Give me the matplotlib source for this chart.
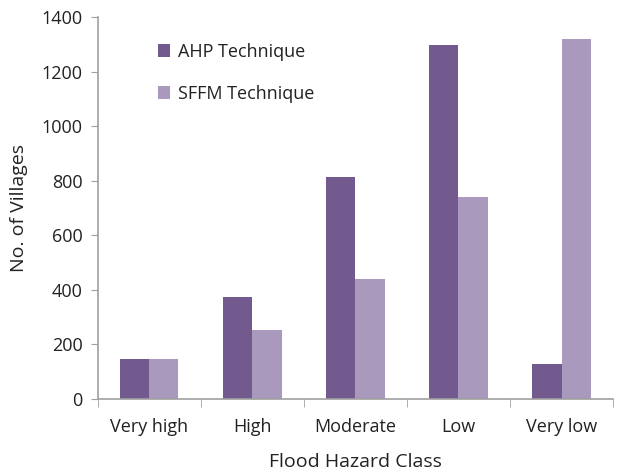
import matplotlib
matplotlib.use("Agg")
import matplotlib.pyplot as plt
import numpy as np

categories = ["Very high", "High", "Moderate", "Low", "Very low"]
ahp = [147, 374, 813, 1297, 128]
sffm = [147, 253, 440, 740, 1319]
series_names = ["AHP Technique", "SFFM Technique"]
yticks = [0, 200, 400, 600, 800, 1000, 1200, 1400]

plt.rcParams['font.family'] = ['Open Sans', 'DejaVu Sans']

fig = plt.figure(figsize=(6.23, 4.71), dpi=100)
ax = fig.add_axes([0.157, 0.153, 0.827, 0.811])

x = np.arange(len(categories))
w = 0.283
c1 = "#725A8E"
c2 = "#A899BD"
ax.bar(x - w/2, ahp, w, color=c1, label=series_names[0])
ax.bar(x + w/2, sffm, w, color=c2, label=series_names[1])

ax.set_xlim(-0.5, len(categories) - 0.5)
ax.set_ylim(0, 1400)
ax.set_yticks(yticks)
ax.set_yticklabels([str(v) for v in yticks], fontsize=13, color="#222222")

ax.set_xticks(x)
ax.set_xticklabels(categories, fontsize=13, color="#222222")
ax.tick_params(axis='x', length=0, pad=14)
ax.set_xticks(np.arange(-0.5, len(categories)), minor=True)
ax.tick_params(axis='x', which='minor', length=6, color="#A0A0A0", direction='out')
ax.tick_params(axis='y', length=5, color="#A0A0A0", direction='out', pad=6)

for s in ["top", "right"]:
    ax.spines[s].set_visible(False)
for s in ["left", "bottom"]:
    ax.spines[s].set_color("#A0A0A0")
    ax.spines[s].set_linewidth(1.2)

ax.set_xlabel("Flood Hazard Class", fontsize=14, color="#222222", labelpad=12)
ax.set_ylabel("No. of Villages", fontsize=14, color="#222222", labelpad=10)

leg = ax.legend(loc="upper left", bbox_to_anchor=(0.085, 0.975), frameon=False,
                fontsize=13, handlelength=0.7, handleheight=0.7,
                handletextpad=0.4, labelspacing=1.35)
for t in leg.get_texts():
    t.set_color("#222222")

fig.savefig("out.png", dpi=100, facecolor="white")
